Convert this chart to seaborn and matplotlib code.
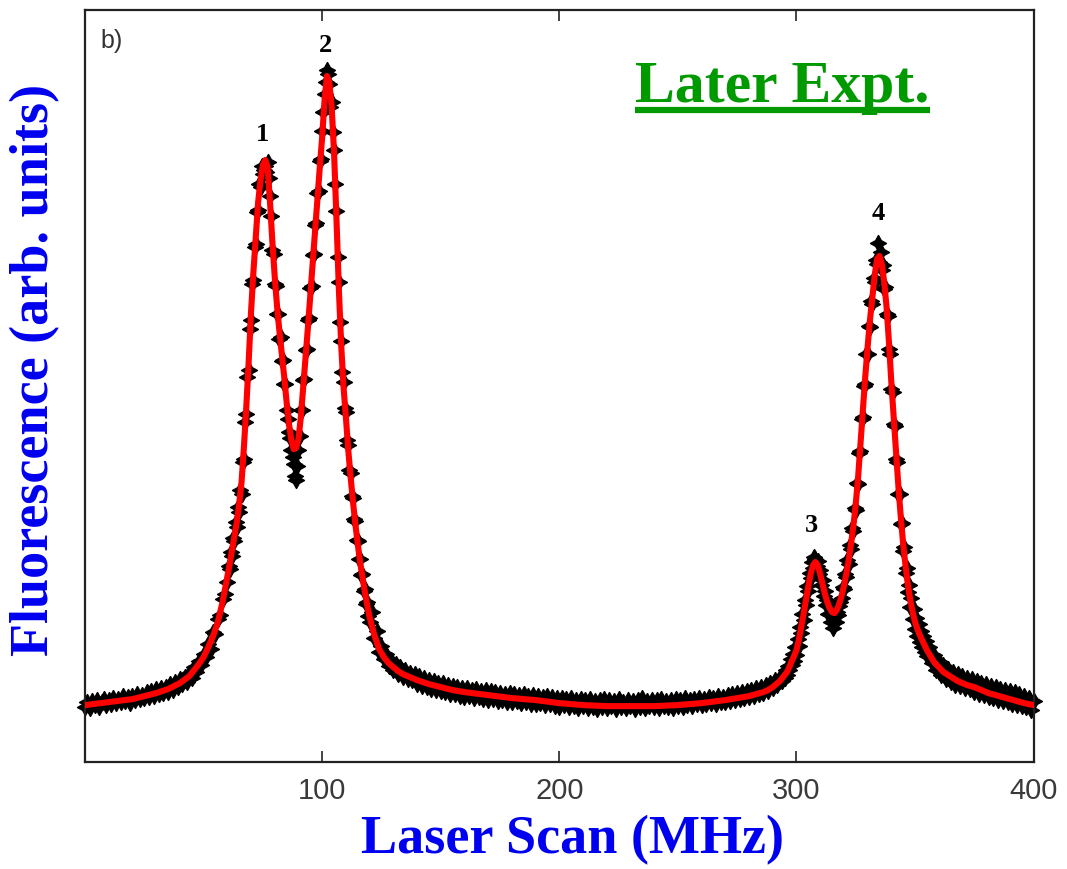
import numpy as np
import pandas as pd
import seaborn as sns
import matplotlib
matplotlib.use("Agg")
import matplotlib.pyplot as plt
from matplotlib.lines import Line2D

# ---------------- data ----------------
# Laser scan sampling (MHz): finer steps across the hyperfine peaks
scan_a = np.arange(0, 60, 1.0)
scan_b = np.arange(60, 120, 0.5)
scan_c = np.arange(120, 295, 1.0)
scan_d = np.arange(295, 355, 0.5)
scan_e = np.arange(355, 401, 1.0)

# Measured fluorescence (arb. units)
signal_a = [55, 60, 54, 61, 57, 62, 55, 60, 63, 57,
            62, 58, 64, 59, 63, 60, 66, 61, 65, 59,
            66, 62, 68, 63, 67, 64, 70, 65, 71, 66,
            73, 68, 74, 69, 75, 70, 78, 72, 80, 75,
            83, 78, 85, 80, 89, 84, 95, 90, 101, 97,
            108, 105, 118, 113, 130, 128, 143, 147, 163, 168]
signal_b = [180, 196, 193, 210, 206, 224, 221, 240, 235, 255,
            250, 272, 268, 300, 303, 340, 348, 385, 392, 433,
            442, 478, 482, 515, 518, 550, 552, 578, 575, 596,
            588, 592, 596, 590, 600, 584, 566, 546, 512, 508,
            478, 476, 448, 448, 423, 425, 401, 402, 378, 378,
            352, 343, 330, 324, 312, 305, 298, 286, 282, 296,
            312, 326, 352, 352, 382, 383, 412, 413, 442, 444,
            474, 476, 507, 508, 537, 539, 569, 571, 601, 603,
            631, 650, 668, 680, 692, 688, 678, 655, 660, 630,
            612, 578, 551, 505, 480, 440, 421, 390, 380, 354,
            350, 322, 317, 292, 289, 266, 264, 243, 241, 222,
            221, 203, 203, 187, 188, 171, 173, 158, 160, 146]
signal_c = [140, 150, 124, 131, 110, 116, 103, 108, 96, 102,
            92, 98, 88, 95, 85, 92, 83, 89, 82, 88,
            78, 86, 76, 84, 75, 82, 73, 81, 72, 79,
            71, 79, 70, 77, 68, 76, 68, 75, 66, 74,
            65, 74, 66, 72, 64, 73, 65, 71, 63, 72,
            62, 71, 63, 70, 61, 69, 62, 68, 60, 69,
            60, 68, 61, 67, 59, 68, 60, 66, 58, 67,
            58, 66, 59, 65, 57, 66, 58, 65, 56, 64,
            55, 64, 57, 63, 55, 64, 56, 62, 54, 63,
            56, 62, 54, 63, 55, 61, 53, 62, 55, 63,
            54, 62, 56, 61, 53, 63, 55, 60, 54, 62,
            56, 61, 53, 62, 55, 64, 54, 61, 56, 62,
            55, 62, 54, 63, 56, 61, 55, 62, 54, 63,
            56, 62, 55, 64, 57, 62, 56, 63, 58, 64,
            57, 63, 58, 65, 59, 64, 58, 66, 60, 65,
            60, 67, 61, 68, 62, 69, 63, 70, 64, 71,
            65, 72, 66, 74, 68, 75, 69, 77, 71, 79,
            74, 82, 77, 85, 81]
signal_d = [84, 92, 87, 96, 92, 103, 97, 108, 101, 115,
            107, 123, 116, 135, 129, 148, 142, 162, 157, 176,
            171, 189, 184, 200, 194, 205, 203, 196, 201, 188,
            192, 177, 182, 166, 171, 157, 162, 148, 155, 140,
            148, 134, 145, 140, 150, 147, 156, 160, 164, 175,
            173, 188, 185, 202, 198, 217, 213, 234, 231, 254,
            252, 279, 278, 309, 311, 343, 345, 376, 378, 408,
            408, 436, 435, 461, 458, 484, 480, 502, 498, 519,
            500, 510, 492, 497, 473, 475, 448, 446, 413, 408,
            373, 370, 338, 336, 303, 300, 268, 268, 238, 239,
            211, 215, 189, 194, 170, 177, 155, 164, 143, 153,
            133, 144, 126, 138, 120, 131, 115, 126, 110, 121]
signal_e = [106, 115, 99, 107, 92, 101, 87, 97, 83, 93,
            80, 90, 77, 88, 76, 86, 74, 84, 73, 83,
            70, 81, 68, 79, 67, 78, 65, 76, 64, 75,
            62, 73, 61, 72, 60, 71, 58, 70, 57, 68,
            56, 66, 55, 64, 52, 61]

# Fitted line profile (arb. units) at the listed scan positions
fit_mhz = ([0, 10, 20, 30, 35, 40, 44, 46, 48, 50, 52, 54, 56, 58]
           + list(range(60, 129))
           + [130, 132, 134, 136, 138, 140, 145, 150, 155, 160, 170, 180, 190,
              200, 210, 220, 230, 240, 250, 260, 270, 275, 280, 283, 286, 288]
           + list(range(290, 359))
           + [360, 362, 364, 366, 368, 370, 372, 375, 378, 381, 384, 387, 390,
              393, 396, 400])
fit_level = ([57, 60, 63, 69, 73, 79, 86, 92, 98, 105, 115, 126, 140, 160]
             + [185, 198, 212, 226, 240, 258, 280, 315, 355, 400,
                450, 490, 525, 560, 582, 597, 602, 595, 560, 520,
                485, 455, 430, 408, 385, 360, 338, 322, 313, 314,
                323, 345, 375, 405, 435, 467, 500, 530, 562, 595,
                625, 662, 686, 680, 655, 610, 545, 475, 418, 375,
                345, 312, 285, 260, 238, 218, 200, 185, 170, 157,
                145, 136, 127, 120, 113, 109, 105, 102, 99]
             + [95, 91, 88, 86, 84, 82, 78, 75, 72, 70, 67, 64, 62,
                59, 57, 56, 56, 56, 57, 59, 62, 64, 66, 68, 70, 72]
             + [75, 77, 79, 81, 84, 87, 90, 95, 101, 106,
                112, 122, 135, 148, 162, 176, 188, 197, 200, 197,
                188, 178, 168, 160, 154, 150, 149, 152, 158, 166,
                176, 188, 202, 218, 236, 258, 285, 318, 352, 385,
                415, 442, 465, 487, 503, 506, 498, 480, 455, 420,
                380, 345, 310, 275, 245, 218, 196, 177, 162, 150,
                140, 133, 127, 122, 117, 112, 108, 104, 100]
             + [95, 90, 87, 84, 81, 79, 77, 75, 72, 69, 67, 65, 63,
                61, 59, 57])

# Peak annotations
peak_names = ["1", "2", "3", "4"]
peak_mhz = [75.0, 101.5, 306.5, 334.5]
peak_height = [602, 686, 200, 506]
label_lift = [10, 14, 18, 22]   # text offset above each peak, points

xtick_values = [100, 200, 300, 400]

# ---------------- figure ----------------
sns.set_theme(style="white")
plt.rcParams["font.family"] = ["Liberation Serif", "DejaVu Serif"]

fig = plt.figure(figsize=(10.67, 8.69), dpi=100)
ax = fig.add_axes([0.0797, 0.123, 0.889, 0.8655])

scan = pd.DataFrame({
    "mhz": np.concatenate([scan_a, scan_b, scan_c, scan_d, scan_e]),
    "signal": np.concatenate([signal_a, signal_b, signal_c, signal_d, signal_e]),
})
fit = pd.DataFrame({"mhz": fit_mhz, "level": fit_level})

sns.scatterplot(data=scan, x="mhz", y="signal", ax=ax, color="black",
                marker=(4, 1, 0), s=125, linewidth=1.2, edgecolor="black",
                zorder=2, legend=False, clip_on=False)
sns.lineplot(data=fit, x="mhz", y="level", ax=ax, color="#ff0000",
             linewidth=4.4, zorder=3, legend=False)

ax.set_xlim(0, 400)
ax.set_ylim(0, 752)

ax.set_xticks(xtick_values)
ax.set_xticklabels([str(v) for v in xtick_values], family="Liberation Sans",
                   fontsize=21, color="#3a3a3a")
ax.set_yticks([])
ax.tick_params(axis="x", direction="in", length=8, width=1.2, color="#222222",
               top=True, bottom=True, pad=11)

for side in ["left", "right", "top", "bottom"]:
    ax.spines[side].set_visible(True)
    ax.spines[side].set_color("#222222")
    ax.spines[side].set_linewidth(1.6)

ax.set_xlabel("Laser Scan (MHz)", fontsize=39, fontweight="bold",
              color="#0000f0")
ax.xaxis.set_label_coords(0.514, -0.104, transform=ax.transAxes)
ax.xaxis.label.set_va("center")
ax.set_ylabel("Fluorescence (arb. units)", fontsize=39, fontweight="bold",
              color="#0000f0")
ax.yaxis.set_label_coords(-0.052, 0.522, transform=ax.transAxes)
ax.yaxis.label.set_va("center")

for name, px, py, lift in zip(peak_names, peak_mhz, peak_height, label_lift):
    ax.annotate(name, xy=(px, py), xytext=(0, lift), textcoords="offset points",
                ha="center", va="bottom", fontsize=19, fontweight="bold",
                color="black")

ax.text(0.016, 0.975, "b)", transform=ax.transAxes, ha="left", va="top",
        fontsize=18, family="Liberation Sans", color="#333333")

title_y = 0.878
title = ax.text(0.58, title_y, "Later Expt.", transform=ax.transAxes,
                ha="left", va="baseline", fontsize=43, fontweight="bold",
                color="#009900")

# underline beneath the green heading
fig.canvas.draw()
bb = title.get_window_extent(renderer=fig.canvas.get_renderer())
inv = fig.transFigure.inverted()
(x0, _), (x1, _) = inv.transform([(bb.x0, bb.y0), (bb.x1, bb.y0)])
y_base = ax.transAxes.transform((0, title_y))[1]
_, y_line = inv.transform((0, y_base - 8))
fig.add_artist(Line2D([x0, x1], [y_line, y_line], color="#009900",
                      linewidth=4.5, solid_capstyle="butt"))

fig.savefig("out.png", dpi=100, facecolor="white")
